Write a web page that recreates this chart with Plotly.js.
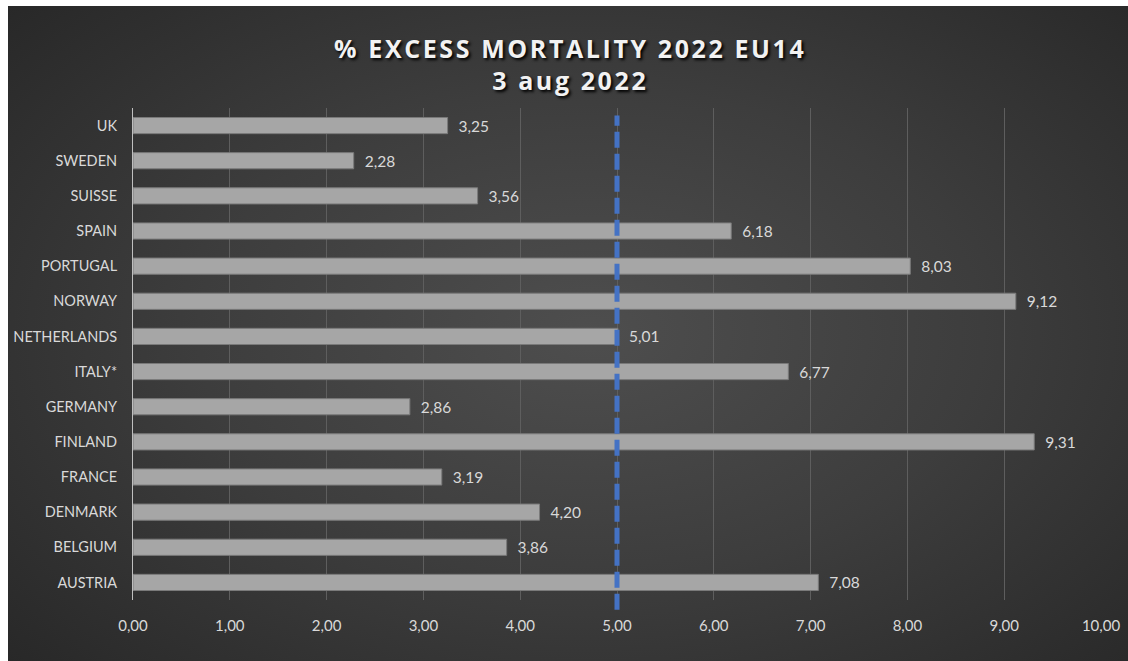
<!DOCTYPE html>
<html>
<head>
<meta charset="utf-8">
<script src="https://cdn.plot.ly/plotly-3.0.1.min.js"></script>
<style>
html,body{margin:0;padding:0;background:#ffffff;width:1128px;height:661px;overflow:hidden;}
#chart{position:absolute;left:8px;top:6px;width:1120px;height:655px;
background:radial-gradient(ellipse 70% 75% at 52% 50%, #4e4e4e 0%, #3d3d3d 50%, #282828 100%);}
#chart .gtitle{letter-spacing:2.6px;}
</style>
</head>
<body>
<div id="chart"></div>
<script>
const countries = ['AUSTRIA','BELGIUM','DENMARK','FRANCE','FINLAND','GERMANY','ITALY*','NETHERLANDS','NORWAY','PORTUGAL','SPAIN','SUISSE','SWEDEN','UK'];
const excessPct = [7.08, 3.86, 4.20, 3.19, 9.31, 2.86, 6.77, 5.01, 9.12, 8.03, 6.18, 3.56, 2.28, 3.25];
const referenceValue = 5;
const titleLines = ['% EXCESS MORTALITY 2022 EU14', '3 aug 2022'];
const xTicks = [0,1,2,3,4,5,6,7,8,9,10];

const font = 'Lato, "Open Sans", sans-serif';
const trace = {
  type: 'bar',
  orientation: 'h',
  y: countries,
  x: excessPct,
  marker: {color: '#a6a6a6', line: {color: '#7a7a7a', width: 1}},
  width: 0.46,
  texttemplate: '\u00a0\u00a0%{x:.2f}',
  textposition: 'outside',
  constraintext: 'none',
  textfont: {color: '#d9d9d9', size: 15.5, family: font},
  cliponaxis: false,
  hoverinfo: 'skip'
};

const layout = {
  width: 1120, height: 655,
  paper_bgcolor: 'rgba(0,0,0,0)',
  plot_bgcolor: 'rgba(0,0,0,0)',
  separators: ',.',
  margin: {l: 125, r: 27, t: 102, b: 61},
  showlegend: false,
  title: {
    text: '<b>' + titleLines.join('<br>') + '</b>',
    x: 0.502, xanchor: 'center',
    y: 0.921, yanchor: 'top', yref: 'container',
    font: {family: '"Open Sans", sans-serif', size: 25, color: '#f2f2f2', shadow: '2px 2px 3px #000000'}
  },
  xaxis: {
    range: [0, 10],
    tickvals: xTicks,
    tickformat: '.2f',
    showgrid: true, gridcolor: '#5e5e5e', gridwidth: 1,
    zeroline: false,
    showline: false,
    ticks: 'outside', ticklen: 12, tickcolor: 'rgba(0,0,0,0)',
    tickfont: {color: '#d9d9d9', size: 15, family: font},
    fixedrange: true
  },
  yaxis: {
    type: 'category',
    showgrid: false,
    showline: true, linecolor: '#bfbfbf', linewidth: 1,
    ticks: 'outside', ticklen: 12, tickcolor: 'rgba(0,0,0,0)',
    tickfont: {color: '#d9d9d9', size: 14.5, family: font},
    fixedrange: true
  },
  shapes: [{
    type: 'line', xref: 'x', yref: 'paper',
    x0: referenceValue, x1: referenceValue, y0: -0.02, y1: 0.985,
    line: {color: '#4472c4', width: 5, dash: '16px,6px'}
  }]
};

Plotly.newPlot('chart', [trace], layout, {displayModeBar: false, staticPlot: true});
</script>
</body>
</html>
